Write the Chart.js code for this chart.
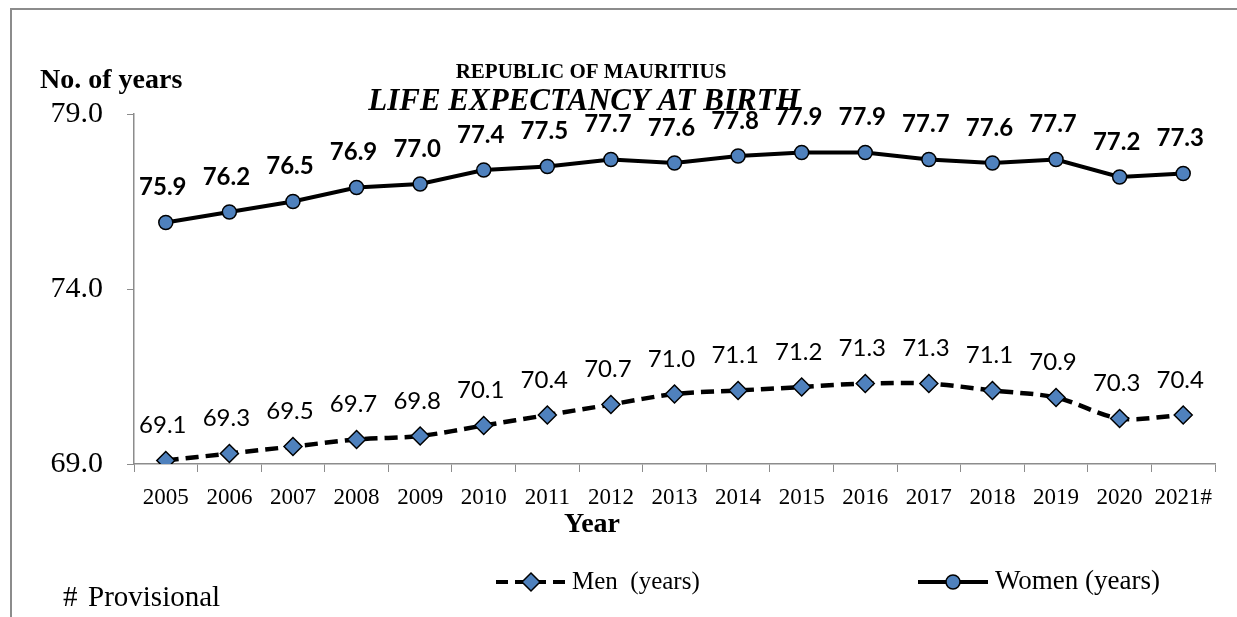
<!DOCTYPE html>
<html>
<head>
<meta charset="utf-8">
<script src="https://cdn.jsdelivr.net/npm/chart.js@4"></script>
<style>
    html, body { margin: 0; padding: 0; background: #fff; }
    #wrap { position: relative; width: 1237px; height: 617px; }
</style>
</head>
<body>
<div id="wrap"><canvas id="lifeChart"></canvas></div>
<script>
// Republic of Mauritius — life expectancy at birth
var years = ['2005','2006','2007','2008','2009','2010','2011','2012','2013','2014','2015','2016','2017','2018','2019','2020','2021#'];
var menYears = [69.1, 69.3, 69.5, 69.7, 69.8, 70.1, 70.4, 70.7, 71.0, 71.1, 71.2, 71.3, 71.3, 71.1, 70.9, 70.3, 70.4];
var womenYears = [75.9, 76.2, 76.5, 76.9, 77.0, 77.4, 77.5, 77.7, 77.6, 77.8, 77.9, 77.9, 77.7, 77.6, 77.7, 77.2, 77.3];
var yTicks = [69, 74, 79];

var SERIF = '"Liberation Serif", "Times New Roman", serif';
var LABEL_FONT = 'Lato, "Open Sans", sans-serif';
var MARKER = '#4F81BD';
var AXIS = '#8c8c8c';

// ── value labels above each point ──
var valueLabels = {
    id: 'valueLabels',
    afterDatasetsDraw: function(chart) {
        var ctx = chart.ctx;
        ctx.save();
        ctx.fillStyle = '#000';
        ctx.textAlign = 'center';
        ctx.textBaseline = 'middle';
        chart.data.datasets.forEach(function(ds, i) {
            var meta = chart.getDatasetMeta(i);
            ctx.font = (ds.boldLabels ? 'bold ' : '') + '24px ' + LABEL_FONT;
            meta.data.forEach(function(pt, j) {
                ctx.fillText(ds.data[j].toFixed(1), pt.x - 3, pt.y - 35);
            });
        });
        ctx.restore();
    }
};

// ── frame, titles, axis names, legend, footnote ──
function diamond(ctx, x, y, r) {
    ctx.beginPath();
    ctx.moveTo(x - r, y); ctx.lineTo(x, y - r); ctx.lineTo(x + r, y); ctx.lineTo(x, y + r);
    ctx.closePath();
    ctx.fillStyle = MARKER; ctx.fill();
    ctx.lineWidth = 1.5; ctx.strokeStyle = '#000'; ctx.stroke();
}
function circle(ctx, x, y, r) {
    ctx.beginPath();
    ctx.arc(x, y, r, 0, Math.PI * 2);
    ctx.fillStyle = MARKER; ctx.fill();
    ctx.lineWidth = 1.5; ctx.strokeStyle = '#000'; ctx.stroke();
}

var decorations = {
    id: 'decorations',
    afterDraw: function(chart) {
        var ctx = chart.ctx;
        ctx.save();
        // frame
        ctx.strokeStyle = AXIS;
        ctx.lineWidth = 2;
        ctx.beginPath();
        ctx.moveTo(11, 617); ctx.lineTo(11, 9); ctx.lineTo(1237, 9);
        ctx.stroke();

        ctx.fillStyle = '#000';
        ctx.textBaseline = 'middle';
        ctx.textAlign = 'center';
        ctx.font = 'bold 21px ' + SERIF;
        ctx.fillText('REPUBLIC OF MAURITIUS', 591, 73);
        ctx.font = 'italic bold 31px ' + SERIF;
        ctx.fillText('LIFE EXPECTANCY AT BIRTH', 584, 102);
        ctx.font = 'bold 28px ' + SERIF;
        ctx.fillText('Year', 592, 525);

        ctx.textAlign = 'left';
        ctx.font = 'bold 28px ' + SERIF;
        ctx.fillText('No. of years', 40, 81);
        ctx.font = '29px ' + SERIF;
        ctx.fillText('#', 63, 598);
        ctx.fillText('Provisional', 88, 598);

        // legend
        var ly = 582;
        ctx.strokeStyle = '#000';
        ctx.lineWidth = 4;
        ctx.setLineDash([12, 7]);
        ctx.beginPath(); ctx.moveTo(496, ly); ctx.lineTo(565, ly); ctx.stroke();
        ctx.setLineDash([]);
        diamond(ctx, 531, ly, 9);
        ctx.fillStyle = '#000';
        ctx.font = '25px ' + SERIF;
        ctx.fillText('Men  (years)', 572, ly);

        ctx.strokeStyle = '#000';
        ctx.lineWidth = 4;
        ctx.beginPath(); ctx.moveTo(918, ly); ctx.lineTo(988, ly); ctx.stroke();
        circle(ctx, 953, ly, 7);
        ctx.fillStyle = '#000';
        ctx.font = '27px ' + SERIF;
        ctx.fillText('Women (years)', 995, ly);
        ctx.restore();
    }
};

new Chart(document.getElementById('lifeChart').getContext('2d'), {
    type: 'line',
    data: {
        labels: years,
        datasets: [
            { label: 'Men  (years)', data: menYears, borderColor: '#000', borderWidth: 4.5, borderDash: [13, 7],
              pointStyle: 'rectRot', pointRadius: 9, pointBackgroundColor: MARKER, pointBorderColor: '#000', pointBorderWidth: 1.5,
              tension: 0.3, boldLabels: false },
            { label: 'Women (years)', data: womenYears, borderColor: '#000', borderWidth: 4,
              pointStyle: 'circle', pointRadius: 7, pointBackgroundColor: MARKER, pointBorderColor: '#000', pointBorderWidth: 1.5,
              tension: 0, boldLabels: true }
        ]
    },
    options: {
        responsive: true, maintainAspectRatio: false, animation: false,
        layout: { padding: { top: 114, right: 22, left: 0, bottom: 0 } },
        plugins: { legend: { display: false }, tooltip: { enabled: false } },
        scales: {
            x: {
                offset: true,
                grid: { offset: true, drawOnChartArea: false, drawTicks: true, tickLength: 8, color: AXIS },
                border: { color: AXIS, width: 1.5 },
                ticks: { color: '#000', font: { family: SERIF, size: 23 }, padding: 12, maxRotation: 0, autoSkip: false },
                afterFit: function(s) { s.height = 617 - 464; }
            },
            y: {
                min: 69, max: 79,
                afterBuildTicks: function(s) { s.ticks = yTicks.map(function(v) { return { value: v }; }); },
                grid: { drawOnChartArea: false, drawTicks: true, tickLength: 7, color: AXIS },
                border: { color: AXIS, width: 1.5 },
                ticks: { color: '#000', font: { family: SERIF, size: 30 }, padding: 24,
                         callback: function(v) { return Number(v).toFixed(1); } },
                afterFit: function(s) { s.width = 134; }
            }
        }
    },
    plugins: [valueLabels, decorations]
});
</script>
</body>
</html>
